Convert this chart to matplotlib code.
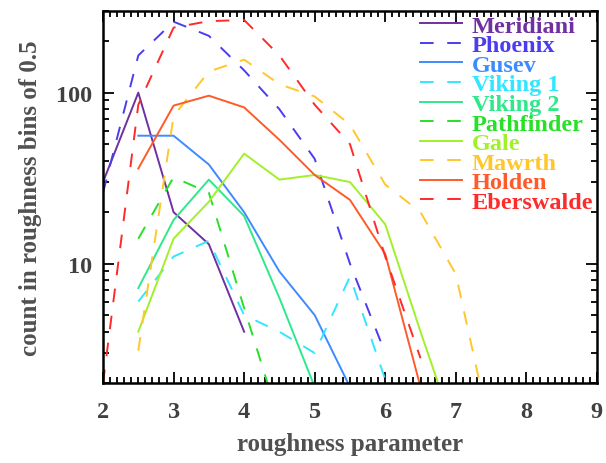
import numpy as np
import matplotlib
matplotlib.use("Agg")
import matplotlib.pyplot as plt
from matplotlib.ticker import MultipleLocator, LogLocator, NullFormatter, FixedLocator

# site names, colours and whether the curve is dashed
sites = ["Meridiani", "Phoenix", "Gusev", "Viking 1", "Viking 2",
         "Pathfinder", "Gale", "Mawrth", "Holden", "Eberswalde"]
colors = ["#7030a0", "#4b3cf0", "#3d8bff", "#33e6ff", "#2ee88a",
          "#28e028", "#a2f02a", "#ffc72c", "#ff5a2a", "#ff2a2a"]
dashed = [False, True, False, True, False, True, False, True, False, True]

# first bin centre of each curve (bins of 0.5)
x_start = [2.0, 2.0, 2.5, 2.5, 2.5, 2.5, 2.5, 2.5, 2.5, 2.0]

# counts per bin
meridiani = [30, 100, 20, 13, 4]
phoenix = [26, 165, 260, 215, 135, 80, 41, 10, 3]
gusev = [56, 56, 38, 20, 9, 5, 1.9]
viking1 = [6, 11, 13.6, 5, 4, 3, 8.4, 2.1]
viking2 = [7.2, 18, 31, 19, 6.3, 1.9]
pathfinder = [14, 32, 26, 5.5, 1.2]
gale = [4, 14, 23, 44, 31, 33, 30, 17, 4, 1]
mawrth = [3.1, 73, 133, 156, 112, 95, 65, 29, 20, 8.7, 1]
holden = [36, 84, 96, 82, 53, 33, 23.6, 11.4, 1.9]
eberswalde = [2, 85, 240, 262, 266, 165, 85, 50, 11, 2.8]

counts = [meridiani, phoenix, gusev, viking1, viking2,
          pathfinder, gale, mawrth, holden, eberswalde]

plt.rcParams["font.family"] = ["Liberation Serif", "DejaVu Serif"]
plt.rcParams["font.weight"] = "bold"

fig = plt.figure(figsize=(6.06, 4.64), dpi=100)
ax = fig.add_axes([0.170, 0.172, 0.815, 0.802])

for name, col, dsh, x0, y in zip(sites, colors, dashed, x_start, counts):
    x = x0 + 0.5 * np.arange(len(y))
    line, = ax.plot(x, y, color=col, lw=1.4, label=name)
    if dsh:
        line.set_dashes((7, 7))

ax.set_yscale("log")
ax.set_xlim(2, 9)
ax.set_ylim(2, 300)

ax.xaxis.set_major_locator(MultipleLocator(1))
ax.xaxis.set_minor_locator(MultipleLocator(0.1))
ax.yaxis.set_major_locator(FixedLocator([10, 100]))
ax.yaxis.set_minor_locator(LogLocator(base=10, subs=np.arange(2, 10)))
ax.yaxis.set_minor_formatter(NullFormatter())
ax.set_yticklabels(["10", "100"])

ax.tick_params(which="both", direction="in", top=True, right=True,
               width=1.3, colors="black", labelcolor="#404040",
               labelsize=17.5)
ax.tick_params(which="major", length=8)
ax.tick_params(axis="x", which="major", pad=13)
ax.tick_params(axis="y", which="major", pad=8)
ax.tick_params(which="minor", length=4)
for sp in ax.spines.values():
    sp.set_linewidth(1.8)

ax.set_xlabel("roughness parameter", fontsize=18, color="#505050",
              fontweight="bold", labelpad=7)
ax.set_ylabel("count in roughness bins of 0.5", fontsize=18, color="#505050",
              fontweight="bold", labelpad=10)

# tight rows like the original legend
leg = ax.legend(loc="upper right", frameon=False, fontsize=17.5,
                handlelength=1.75, handletextpad=0.4, labelspacing=-0.1,
                borderaxespad=0.15, borderpad=0.0)
for txt, col in zip(leg.get_texts(), colors):
    txt.set_color(col)
    txt.set_fontweight("bold")

fig.savefig("out.png", dpi=100, facecolor="white")
